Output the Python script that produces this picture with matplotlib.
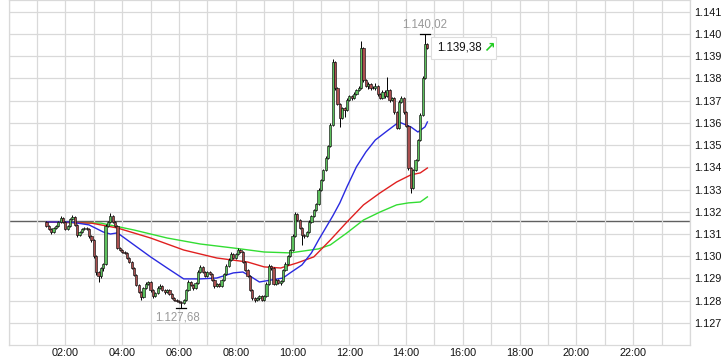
import matplotlib
matplotlib.use("Agg")
import matplotlib.pyplot as plt
import numpy as np
from matplotlib.patches import Rectangle

# ---------------- data ----------------
start_time = "01:20"          # first 5-minute candle
first_open = 1.13154
closes = [
    1.13136, 1.13123, 1.13109, 1.13127, 1.13136, 1.13154, 1.13172, 1.13154, 1.13123, 1.13136,
    1.13168, 1.13177, 1.13141, 1.13096, 1.13109, 1.13123, 1.13127, 1.13123, 1.13091, 1.13073,
    1.13001, 1.12929, 1.12911, 1.12947, 1.12965, 1.13136, 1.13154, 1.13181, 1.13154, 1.13136,
    1.13037, 1.13028, 1.13019, 1.13015, 1.12992, 1.12974, 1.12947, 1.12916, 1.12871, 1.12839,
    1.12817, 1.12857, 1.12875, 1.12884, 1.12848, 1.12821, 1.12835, 1.12857, 1.12866, 1.12848,
    1.12839, 1.12848, 1.12830, 1.12812, 1.12803, 1.12799, 1.12794, 1.12790, 1.12803, 1.12848,
    1.12884, 1.12871, 1.12857, 1.12880, 1.12929, 1.12952, 1.12929, 1.12911, 1.12929, 1.12920,
    1.12893, 1.12866, 1.12875, 1.12866, 1.12893, 1.12920, 1.12956, 1.12983, 1.13010, 1.12992,
    1.13010, 1.13028, 1.13019, 1.12974, 1.12938, 1.12911, 1.12848, 1.12812, 1.12803, 1.12812,
    1.12821, 1.12803, 1.12821, 1.12875, 1.12956, 1.12947, 1.12875, 1.12893, 1.12880, 1.12889,
    1.12938, 1.12965, 1.13001, 1.13028, 1.13091, 1.13190, 1.13163, 1.13127, 1.13096, 1.13091,
    1.13109, 1.13154, 1.13181, 1.13208, 1.13235, 1.13298, 1.13343, 1.13388, 1.13442, 1.13496,
    1.13591, 1.13874, 1.13757, 1.13685, 1.13622, 1.13667, 1.13658, 1.13703, 1.13721, 1.13712,
    1.13730, 1.13748, 1.13757, 1.13937, 1.13793, 1.13766, 1.13775, 1.13757, 1.13757, 1.13766,
    1.13730, 1.13712, 1.13739, 1.13721, 1.13748, 1.13703, 1.13712, 1.13649, 1.13577, 1.13694,
    1.13712, 1.13649, 1.13586, 1.13397, 1.13307, 1.13388, 1.13433, 1.13523, 1.13636, 1.13802,
    1.13955, 1.13938,
]
# wick lengths above / below the body, in points (0.00001)
upper_wick = [
    4, 3, 5, 6, 4, 5, 8, 4, 3, 5, 6, 8, 3, 4, 5, 6, 4, 3, 5, 4,
    5, 4, 3, 6, 5, 8, 6, 14, 5, 4, 6, 4, 5, 3, 4, 5, 3, 4, 5, 3,
    4, 6, 8, 5, 4, 3, 5, 7, 9, 4, 5, 6, 3, 4, 3, 4, 3, 4, 5, 6,
    7, 5, 4, 6, 8, 9, 5, 4, 6, 5, 4, 3, 6, 4, 5, 6, 7, 8, 9, 5,
    6, 9, 5, 4, 3, 5, 4, 3, 4, 5, 3, 4, 6, 7, 9, 5, 4, 6, 5, 4,
    6, 7, 5, 6, 8, 9, 5, 4, 3, 6, 5, 7, 6, 5, 6, 8, 6, 5, 7, 6,
    8, 14, 6, 5, 4, 6, 5, 7, 6, 5, 8, 6, 9, 31, 6, 5, 7, 6, 8, 12,
    5, 6, 8, 7, 58, 6, 5, 4, 5, 8, 7, 5, 4, 3, 4, 6, 5, 6, 8, 9,
    47, 6,
]
lower_wick = [
    5, 6, 9, 4, 5, 4, 3, 6, 7, 4, 5, 3, 6, 8, 5, 4, 5, 6, 7, 8,
    10, 12, 27, 8, 15, 6, 5, 4, 6, 5, 6, 5, 4, 6, 5, 4, 6, 7, 5, 6,
    14, 6, 5, 4, 7, 8, 5, 4, 6, 5, 7, 4, 6, 5, 6, 7, 5, 22, 4, 5,
    6, 5, 8, 4, 5, 4, 6, 5, 4, 5, 6, 7, 5, 4, 5, 4, 3, 5, 4, 6,
    4, 5, 6, 4, 5, 4, 6, 8, 9, 5, 7, 6, 5, 4, 5, 8, 6, 5, 4, 9,
    5, 4, 5, 4, 6, 5, 4, 6, 46, 8, 5, 4, 5, 4, 3, 4, 5, 4, 5, 6,
    5, 4, 8, 6, 40, 5, 31, 6, 5, 7, 6, 5, 4, 5, 8, 6, 12, 7, 6, 8,
    7, 6, 5, 8, 6, 7, 6, 8, 5, 6, 5, 7, 6, 9, 23, 6, 5, 4, 5, 6,
    5, 4,
]

ma_fast_times = ["01:20", "02:10", "02:50", "03:20", "03:35", "03:50", "04:25", "05:00", "05:35",
                 "06:10", "06:45", "07:20", "07:55", "08:15", "08:30", "08:50", "09:15", "09:40",
                 "09:55", "10:20", "10:40", "10:55", "11:10", "11:25", "11:40", "11:55", "12:15",
                 "12:35", "12:55", "13:20", "13:45", "14:10", "14:25", "14:40", "14:45"]
ma_fast = [1.13154, 1.13154, 1.13141, 1.13109, 1.13100, 1.13105, 1.13051, 1.12997, 1.12947,
           1.12898, 1.12898, 1.12902, 1.12925, 1.12929, 1.12911, 1.12884, 1.12893, 1.12902,
           1.12925, 1.12961, 1.13015, 1.13073, 1.13127, 1.13181, 1.13240, 1.13312, 1.13402,
           1.13469, 1.13523, 1.13564, 1.13604, 1.13582, 1.13559, 1.13582, 1.13604]

ma_mid_times = ["01:20", "02:55", "03:50", "05:00", "06:10", "07:20", "08:25", "09:00", "09:35",
                "10:10", "10:45", "11:20", "11:55", "12:30", "13:05", "13:40", "14:10", "14:30",
                "14:45"]
ma_mid = [1.13154, 1.13149, 1.13127, 1.13082, 1.13028, 1.12992, 1.12974, 1.12952, 1.12947,
          1.12970, 1.12997, 1.13073, 1.13154, 1.13231, 1.13285, 1.13334, 1.13366, 1.13375,
          1.13397]

ma_slow_times = ["01:20", "03:15", "04:25", "05:35", "06:45", "07:55", "09:00", "09:55", "10:55",
                 "11:20", "11:55", "12:30", "13:05", "13:40", "14:05", "14:30", "14:45"]
ma_slow = [1.13154, 1.13149, 1.13118, 1.13082, 1.13055, 1.13037, 1.13019, 1.13015, 1.13033,
           1.13051, 1.13105, 1.13163, 1.13199, 1.13231, 1.13240, 1.13244, 1.13267]

prev_close = 1.13158
x_tick_labels = ["02:00", "04:00", "06:00", "08:00", "10:00", "12:00",
                 "14:00", "16:00", "18:00", "20:00", "22:00"]
y_ticks = [1.127, 1.128, 1.129, 1.130, 1.131, 1.132, 1.133, 1.134,
           1.135, 1.136, 1.137, 1.138, 1.139, 1.140, 1.141]


def hrs(s):
    h, m = s.split(":")
    return int(h) + int(m) / 60.0


def fmt_price(v):
    s = f"{v * 1000:,.2f}"
    return s.replace(",", "X").replace(".", ",").replace("X", ".")


# ---------------- figure ----------------
W, H = 724, 360
fig = plt.figure(figsize=(W / 100, H / 100), dpi=100)
x0, x1, ybot, ytop = 8.6, 690, 345, 0
ax = fig.add_axes([x0 / W, (H - ybot) / H, (x1 - x0) / W, (ybot - ytop) / H])
ax.set_xlim(0, 24)
ax.set_ylim(1.126005, 1.14153)

FS = 7.8
grid_c = "#d9d9d9"
ax.set_xticks([hrs(t) for t in x_tick_labels])
ax.set_xticklabels(x_tick_labels)
ax.set_xticks(np.arange(0, 25, 1), minor=True)
ax.yaxis.tick_right()
ax.set_yticks(y_ticks)
ax.set_yticklabels([f"{v:.3f}" for v in y_ticks])
ax.grid(True, which="both", color=grid_c, lw=0.9, zorder=0)
ax.tick_params(which="both", length=0)
ax.tick_params(axis="x", pad=2.5)
ax.tick_params(axis="y", pad=3)
for lab in ax.get_xticklabels() + ax.get_yticklabels():
    lab.set_fontfamily("Liberation Sans")
    lab.set_fontsize(FS)
    lab.set_color("#111111")
for sp in ax.spines.values():
    sp.set_color(grid_c)
    sp.set_linewidth(0.9)

# previous close reference line
ax.axhline(prev_close, color="#606060", lw=1.0, zorder=1)

# moving averages
ax.plot([hrs(t) for t in ma_slow_times], ma_slow, color="#33dd33", lw=1.0, zorder=2)
ax.plot([hrs(t) for t in ma_mid_times], ma_mid, color="#e02020", lw=1.0, zorder=2)
ax.plot([hrs(t) for t in ma_fast_times], ma_fast, color="#2a2ae0", lw=1.0, zorder=2)

# candles
n = len(closes)
t0 = hrs(start_time)
step = 5 / 60.0
opens = [first_open] + closes[:-1]
highs, lows = [], []
bw = 0.078
for i in range(n):
    x = t0 + i * step
    o, c = opens[i], closes[i]
    hi = max(o, c) + upper_wick[i] * 1e-5
    lo = min(o, c) - lower_wick[i] * 1e-5
    highs.append(hi)
    lows.append(lo)
    ax.plot([x, x], [lo, hi], color="black", lw=0.7, zorder=3, solid_capstyle="butt")
    col = "#5cc05c" if c >= o else "#aa4f4f"
    h = max(abs(c - o), 0.000015)
    ax.add_patch(Rectangle((x - bw / 2, min(o, c)), bw, h, facecolor=col,
                           edgecolor="#111111", lw=0.45, zorder=4))

# extremes markers
imax = int(np.argmax(highs))
imin = int(np.argmin(lows))
xmax = t0 + imax * step
xmin = t0 + imin * step
ax.plot([xmax - 0.18, xmax + 0.18], [highs[imax]] * 2, color="black", lw=0.9, zorder=5)
ax.plot([xmin - 0.18, xmin + 0.18], [lows[imin]] * 2, color="black", lw=0.9, zorder=5)
ax.annotate(fmt_price(highs[imax]), (xmax, highs[imax]), xytext=(0, 2.5),
            textcoords="offset points", ha="center", va="bottom", fontsize=8.3,
            family="Liberation Sans", color="#999999")
ax.annotate(fmt_price(lows[imin]), (xmin, lows[imin]), xytext=(-3, -2.5),
            textcoords="offset points", ha="center", va="top", fontsize=8.3,
            family="Liberation Sans", color="#999999")

# last price box (drawn in pixel units next to the last candle)
last = closes[-1]
xl = t0 + (n - 1) * step
px, py = ax.transData.transform((xl, last))
fig.patches.append(Rectangle((px + 4, py - 11), 65, 22, transform=None,
                             facecolor="white", edgecolor="#dddddd", lw=0.8, zorder=6))
fig.text(px + 10, py, fmt_price(last), transform=None, ha="left", va="center",
         fontsize=8.3, family="Liberation Sans", color="#111111", zorder=7)
fig.text(px + 56, py, "\u2197", transform=None, ha="left", va="center",
         fontsize=10, fontweight="bold", family="DejaVu Sans", color="#22cc22", zorder=7)

fig.savefig("out.png", dpi=100)
